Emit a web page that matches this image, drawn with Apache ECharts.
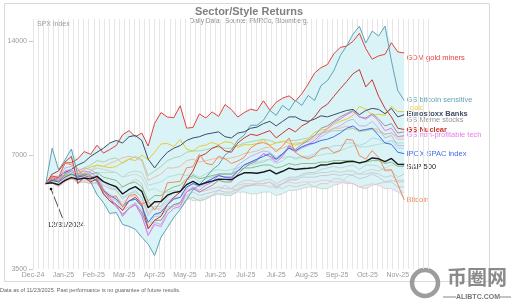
<!DOCTYPE html>
<html><head><meta charset="utf-8">
<script src="https://cdn.jsdelivr.net/npm/echarts@6/dist/echarts.min.js"></script>
<style>html,body{margin:0;padding:0;background:#fff}#c{width:512px;height:303px}</style>
</head><body><div id="c"></div>
<script>
// SPX level on 12/31/2024; every series is rebased to 100 on that day
const SPX_BASE = 5881.63;
// trading-day index of each sample (axis starts 8 trading days before 12/31/2024)
const DAYS = [8,12,16,20,24,28,32,36,40,44,48,52,56,60,64,68,72,76,80,84,88,92,96,100,104,108,112,116,120,124,128,132,136,140,144,148,152,156,160,164,168,172,176,180,184,188,192,196,200,204,208,212,216,220,224,228,232];
const X_LABEL_STEP = 19;
const X_LABELS = ['Dec-24','Jan-25','Feb-25','Mar-25','Apr-25','May-25','Jun-25','Jul-25','Jul-25','Aug-25','Sep-25','Oct-25','Nov-25'];
const Y_TICKS = [3500, 7000, 14000];

const spx = [100,100.5,99.3,102,103.7,102.7,103.4,102.9,104.5,101.2,99.5,98.1,93.9,96.5,98.2,95.4,86.3,89.6,89.7,93.2,94.7,95.3,99.4,101.3,99.3,100.5,101.5,102.7,102.6,102.4,105,106.8,106.8,106.5,107.3,108.6,106.1,107.8,109.9,109,109.5,109.8,110.2,112,112.2,113.2,113.2,114.2,114.5,113.4,114.5,116.9,116.3,114.3,116.5,112.5,112.3];
const gold = [100,101,101.7,104.6,105.5,106.7,108.8,110.6,111.8,111,110.2,110.9,113.8,116.1,115,118.9,115.7,121,127.3,127.6,125.3,130.7,123.3,121.9,125.5,126.4,128.5,126.6,129,128.3,124.7,126.7,126.7,127.5,130.7,126.2,128.1,129.4,127.8,126.3,128.2,131.3,136.6,138.4,139.4,143.4,146,148,151.4,160,157.1,151.6,152.4,151.5,159.8,154.9,154.9];
const bitcoin = [100,103.7,103.3,113.5,112.1,109.6,103.4,104.7,103.4,95,92.1,92.8,86.6,93,93.7,88.3,89.7,85.2,89.9,100.5,100.9,101.4,110.1,110.8,119.6,113.1,112.1,118.1,116.4,113,114.7,117.3,124.2,127.4,128.4,126.3,121.3,125.8,132,120.9,117.9,116.1,118.5,123.7,124.6,120.7,122.4,130.9,130.2,118.6,116.1,122.2,117.3,108.5,108.9,99.5,90.6];
const gdm = [100,104.7,103.8,113.3,113.6,116.2,121.5,119.5,126.3,120.4,123,126,134.5,138,133,136,125.7,144.2,154,149.9,149.3,160.5,140.1,140.7,152.8,149,154.6,150.4,161.7,156.9,149.9,154,157.2,155.8,165.5,156.3,164,168.1,170.5,165.2,172.6,183.2,195.9,202.4,206.2,220.1,228.9,230.7,237.5,249.3,227.1,213,217.4,219.5,235.4,222.7,221.2];
const btcSensitive = [100,124,108.7,115.5,123.4,105.5,103.6,101.2,93.5,89.1,83.4,83.9,78,77.1,75.7,72.2,69.2,64.6,72.2,76.6,81.4,85.4,90.7,96.4,99.3,103.6,108.7,112.1,119,122.6,130.3,134.3,142.6,142.6,147,156.1,151.5,160.9,156.1,165.8,160.9,170.9,165.8,181.5,187,198.7,217.5,231,248,260.5,235,252.8,245.3,260.5,211,176,165.8];
const euroBanks = [100,102,104,107,109,112,114,118,121,124,128,130,128,133,134,130,116,110,116,121,124,126,130,132,133,135,136,137,133,132,136,137,140,141,144,146,142,146,150,150,147,146,148,151,150,152,154,156,157,152,156,158,157,153,158,150,152];
const nuclear = [100,106,108,114,118,100,104,101,103,94,90,88,85,90,92,88,76,80,82,88,92,95,102,108,118,120,124,126,122,121,128,132,135,134,136,138,132,136,140,137,142,145,150,158,162,170,178,186,195,200,180,188,170,158,150,140,139];
const nonProfTech = [100,104,102,108,109,106,108,107,104,96,91,88,82,86,88,82,73,78,77,83,86,87,95,98,96,99,101,105,104,103,108,112,114,116,120,118,114,118,125,122,125,127,130,135,140,145,148,152,155,150,148,152,146,138,140,133,134];
const meme = [100,103,101,106,108,104,106,105,101,94,90,87,83,86,88,84,76,80,80,85,88,89,95,97,95,97,99,102,101,101,106,110,113,115,120,118,116,119,126,123,127,130,134,140,142,146,150,153,156,150,149,153,148,142,144,136,137];
const ipoxSpac = [100,102,101,104,106,104,105,104,102,96,93,91,87,90,91,87,79,83,84,88,91,92,98,100,99,101,103,105,104,104,108,112,114,116,118,120,116,120,124,122,125,127,128,130,131,133,136,140,142,138,139,140,134,128,127,121,120];
// unlabelled sector / style baskets
const other1 = [100,101,99,102,103,102,103,102,102,99,97,96,92,94,95,92,84,87,87,90,92,92,96,97,95,96,97,98,97,97,100,102,102,101,102,103,100,102,104,104,105,106,106,107,107,108,107,108,108,106,106,107,106,104,105,102,102];
const other2 = [100,101,99,102,104,102,104,104,105,101,98,96,91,94,96,92,82,87,87,92,95,96,102,104,101,103,104,106,106,106,110,112,112,113,114,116,113,115,118,117,118,118,120,123,124,126,126,128,128,126,128,132,131,128,130,124,124];
const other3 = [100,101,98,102,103,101,101,100,100,96,93,92,88,90,91,88,79,83,83,85,87,88,91,92,90,91,93,94,93,93,96,98,99,100,100,101,97,100,102,103,106,107,107,109,110,111,110,111,112,109,112,112,111,108,108,104,106];
const other4 = [100,102,103,104,105,106,106,106,107,107,107,107,104,105,106,104,96,97,95,95,96,95,93,90,91,92,93,94,94,94,95,95,94,94,95,95,93,94,96,96,97,98,98,97,97,99,100,104,106,106,108,109,108,110,112,112,113];
const other5 = [100,103,105,105,103,101,101,100,101,99,97,97,98,100,103,100,88,86,85,87,87,86,91,92,90,91,93,96,99,97,96,98,99,99,99,98,98,97,99,98,99,100,98,100,100,103,103,101,100,98,97,99,100,101,102,101,101];
const other6 = [100,101,99,103,104,104,103,102,102,96,92,90,85,87,89,85,77,82,82,86,88,88,93,95,93,94,95,96,95,95,97,99,99,100,100,101,98,100,103,102,104,104,104,105,105,106,105,106,105,103,104,106,104,101,101,98,98];
const other7 = [100,102,101,104,106,105,107,108,110,109,108,107,104,107,108,107,99,100,101,104,105,106,105,106,104,106,108,109,108,109,110,112,113,114,115,116,116,117,118,116,117,117,118,119,120,120,122,124,126,125,125,126,127,128,130,128,128];
const other8 = [100,101,100,103,104,104,106,108,112,111,113,115,117,118,117,115,102,104,106,110,110,111,115,116,114,115,116,117,116,117,118,120,121,122,124,125,123,124,126,128,128,129,132,136,138,140,140,142,140,137,138,140,139,135,136,131,131];
const other9 = [100,102,103,105,107,108,110,112,115,114,116,117,113,116,118,116,105,108,111,115,117,118,121,122,122,123,124,125,124,124,126,128,129,130,131,130,128,129,130,130,131,132,134,136,137,138,138,139,140,138,138,139,137,135,136,133,133];
const other10 = [100,104,102,110,111,108,110,109,106,97,92,88,82,86,89,83,73,79,78,85,88,89,97,100,98,100,103,106,106,106,112,115,118,120,122,121,117,120,124,121,124,126,128,133,136,140,142,146,148,142,142,146,140,132,134,126,126];
const other11 = [100,102,102,105,106,105,106,106,107,104,103,102,98,100,101,98,90,93,93,96,98,99,103,105,103,104,105,106,106,106,108,110,110,111,112,112,110,111,113,112,113,113,113,114,114,115,115,115,115,113,114,115,115,113,114,111,111];
const other12 = [100,100,98,101,103,101,102,101,100,96,94,92,89,92,93,90,83,86,86,89,91,92,96,97,95,96,97,98,97,97,99,100,100,100,100,101,99,100,101,100,101,101,101,102,102,101,101,100,100,98,99,100,99,97,97,95,95];

const FONT = '"Liberation Sans", Arial, sans-serif';
const grayDefs = [
  [other1,'#c6cccc'],[other2,'#a9d5da'],[other3,'#bfcfcf'],[other4,'#c9d6cc'],
  [other5,'#d3c9bf'],[other6,'#c4c6d0'],[other7,'#b6d9c7'],[other8,'#f0b59c'],
  [other9,'#a9cf9f'],[other10,'#c3ace3'],[other11,'#7fb873'],[other12,'#efc3d3']
];
const named = [
  {name:'GDM gold miners', data:gdm, color:'#e8403c', ly:58, bold:false},
  {name:'GS bitcoin sensitive', data:btcSensitive, color:'#5fa3b5', ly:99.5, bold:false},
  {name:'gold', data:gold, color:'#e9cc32', ly:108, bold:false, lx:410},
  {name:'Eurostoxx Banks', data:euroBanks, color:'#3d4d66', ly:113.5, bold:true},
  {name:'GS Meme stocks', data:meme, color:'#959595', ly:119.5, bold:false},
  {name:'GS Nuclear', data:nuclear, color:'#c8382e', ly:129.5, bold:true},
  {name:'GS non-profitable tech', data:nonProfTech, color:'#e67cf0', ly:135, bold:false},
  {name:'IPOX SPAC index', data:ipoxSpac, color:'#3f6ee8', ly:154, bold:false},
  {name:'Bitcoin', data:bitcoin, color:'#f08a5a', ly:199.5, bold:false},
  {name:'S&P 500', data:spx, color:'#1a1a1a', ly:167, bold:false, w:1.4}
];

const toLevel = arr => DAYS.map((d,i) => [d, arr[i] * SPX_BASE / 100]);
const all = grayDefs.map(g => g[0]).concat(named.map(n => n.data));
const lo = DAYS.map((d,i) => Math.min(...all.map(a => a[i])) * SPX_BASE / 100);
const hi = DAYS.map((d,i) => Math.max(...all.map(a => a[i])) * SPX_BASE / 100);

const series = [{
  type:'custom', z:1, silent:true,
  data:[[DAYS[0], lo[0]]],
  renderItem:(params, api) => {
    const pts = DAYS.map((d,i) => api.coord([d, hi[i]]));
    for (let i = DAYS.length - 1; i >= 0; i--) pts.push(api.coord([DAYS[i], lo[i]]));
    return {type:'polygon', shape:{points:pts}, style:{fill:'#daf3f7'}};
  }
}];
grayDefs.forEach(g => series.push({type:'line', data: toLevel(g[0]), symbol:'none', lineStyle:{width:0.9, color:g[1]}, z:2, silent:true}));
named.forEach((n,i) => series.push({type:'line', name:n.name, data: toLevel(n.data), symbol:'none', lineStyle:{width:n.w||1, color:n.color}, z:3+i, silent:true}));

const graphic = [
  {type:'rect', shape:{x:4.5,y:3.5,width:485,height:278}, style:{fill:'none', stroke:'#d9d9d9', lineWidth:1}, silent:true, z:-10},
  {type:'text', x:249, y:11.5, style:{text:'Sector/Style Returns', font:'bold 11px '+FONT, fill:'#7f7f7f', align:'center', verticalAlign:'middle'}},
  {type:'text', x:249, y:21.5, style:{text:'Daily Data.  Source: FMRCo, Bloomberg.', font:'6.5px '+FONT, fill:'#8a8a8a', align:'center', verticalAlign:'middle'}},
  {type:'text', x:0, y:290, style:{text:'Data as of 11/23/2025. Past performance is no guarantee of future results.', font:'5.5px '+FONT, fill:'#666', align:'left', verticalAlign:'middle'}},
  {type:'text', x:66, y:224.5, style:{text:'12/31/2024', font:'7.5px '+FONT, fill:'#222', align:'center', verticalAlign:'middle'}},
  {type:'line', shape:{x1:51,y1:189,x2:62.5,y2:218}, style:{stroke:'#222', lineWidth:0.8}},
  {type:'circle', shape:{cx:51,cy:189,r:1.3}, style:{fill:'#111'}},
  // watermark
  {type:'circle', shape:{cx:425,cy:283,r:13}, style:{fill:'none', stroke:'#8c8c8c', lineWidth:4.5, opacity:0.85}},
  {type:'text', x:447, y:277, style:{text:'币圈网', font:'bold 20px "Noto Sans CJK SC"', fill:'#7d7d7d', align:'left', verticalAlign:'middle', opacity:0.9}},
  {type:'text', x:478, y:297, style:{text:'ALIBTC.COM', font:'bold 7px '+FONT, fill:'#777', align:'center', verticalAlign:'middle'}},
  {type:'line', shape:{x1:443,y1:297,x2:456,y2:297}, style:{stroke:'#888', lineWidth:1}},
  {type:'line', shape:{x1:500,y1:297,x2:511,y2:297}, style:{stroke:'#888', lineWidth:1}}
];
named.forEach(n => graphic.push({type:'text', x:n.lx||406.5, y:n.ly, style:{text:n.name, font:(n.bold?'bold ':'')+'7.5px '+FONT, fill:n.color, align:'left', verticalAlign:'middle'}}));

const chart = echarts.init(document.getElementById('c'));
chart.setOption({
  animation:false,
  backgroundColor:'#fff',
  grid:{left:33, top:19, width:395.2, height:250},
  xAxis:{type:'value', min:0, max:247, interval:X_LABEL_STEP/6,
    axisLine:{show:false}, axisTick:{show:false},
    splitLine:{show:true, lineStyle:{color:'#e6e6e6', width:1}},
    axisLabel:{fontSize:7, color:'#9a9a9a', margin:3, fontFamily:FONT, showMaxLabel:false,
      formatter: v => { const q = v / X_LABEL_STEP, r = Math.round(q); return (Math.abs(q - r) < 1e-3 && X_LABELS[r]) ? X_LABELS[r] : ''; }}
  },
  yAxis:{type:'log', min:3500, max:16000,
    axisLine:{show:false},
    axisTick:{show:true, length:4, lineStyle:{color:'#c8c8c8'}, customValues:Y_TICKS},
    axisLabel:{customValues:Y_TICKS, fontSize:7, color:'#9a9a9a', margin:6, fontFamily:FONT, formatter: v => String(Math.round(v))},
    splitLine:{show:false},
    name:'SPX index', nameLocation:'end', nameGap:-9,
    nameTextStyle:{align:'left', verticalAlign:'bottom', fontSize:7, color:'#9a9a9a', fontFamily:FONT, padding:[0,0,0,4]}
  },
  series, graphic
});
</script></body></html>
